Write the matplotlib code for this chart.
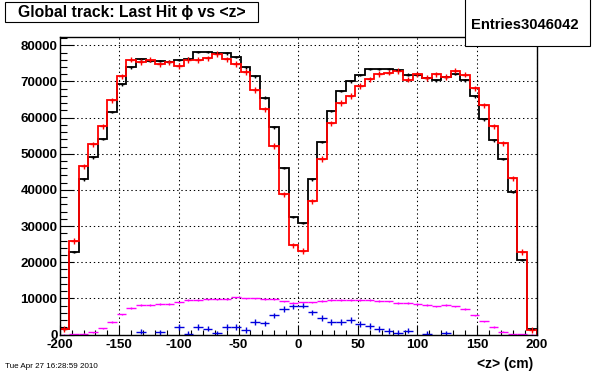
#Last hit phi vs <z> for global tracks, ROOT style histogram overlay

import numpy as np
import matplotlib
matplotlib.use("Agg")
import matplotlib.pyplot as plt
from matplotlib.patches import Rectangle
from matplotlib.ticker import MultipleLocator

#bin layout: 50 bins from -200 to 200 cm
z_lo, z_hi, n_bins = -200, 200, 50

#series (entries per bin)
black_counts = [1500, 22800, 42900, 49000, 54100, 61500, 69200, 73900, 76100, 75700,
                75600, 75500, 75900, 76300, 78100, 78100, 77800, 77800, 76800, 73900,
                71400, 65500, 57300, 46000, 32500, 30900, 42900, 53200, 61800, 67300,
                70000, 71800, 73400, 73400, 73400, 73100, 71900, 71900, 70900, 70300,
                71200, 72000, 70300, 65900, 59500, 53700, 48500, 39400, 20600, 1500]
red_counts = [1500, 25900, 46500, 52600, 57600, 64800, 71400, 76000, 75400, 76000,
              74700, 75300, 74300, 75900, 75900, 76400, 77600, 76100, 74800, 72600,
              67600, 62300, 52100, 38800, 24700, 23100, 36800, 48500, 58400, 64000,
              66000, 68700, 70600, 72100, 72400, 72900, 70500, 72000, 71000, 72000,
              71200, 73000, 71900, 68100, 63400, 57600, 52900, 43200, 22800, 1200]
magenta_counts = [0, 50, 100, 600, 1700, 3500, 5600, 7300, 8100, 8100,
                  8400, 8400, 8900, 9500, 9500, 9700, 9700, 9800, 10300, 10000,
                  10000, 9800, 9800, 9200, 8800, 8900, 8900, 9300, 9600, 9600,
                  9600, 9600, 9600, 9300, 9200, 8700, 8700, 8400, 8100, 7800,
                  8100, 7800, 7100, 5300, 3600, 2100, 800, 50, 50, 0]
blue_counts = [0, 0, 0, 0, 0, 0, 0, 0, 800, 0,
               600, 0, 2100, 200, 2100, 1600, 300, 2100, 2100, 1300,
               3500, 3100, 5300, 7100, 7800, 8000, 6100, 4600, 3400, 3400,
               4000, 2900, 2400, 1500, 1000, 400, 1100, 0, 100, 0,
               300, 0, 0, 0, 0, 0, 0, 0, 0, 0]

y_ticks = [0, 10000, 20000, 30000, 40000, 50000, 60000, 70000, 80000]
x_ticks = [-200, -150, -100, -50, 0, 50, 100, 150, 200]

title_text = "Global track: Last Hit \u03d5 vs <z>"
stats_text = "Entries3046042"
date_text = "Tue Apr 27 16:28:59 2010"
xlabel_text = "<z> (cm)"

plt.rcParams['font.family'] = ['Liberation Sans', 'DejaVu Sans']

W, H = 596, 372
fig = plt.figure(figsize=(W / 100, H / 100), dpi=100)
ax = fig.add_axes([59.7 / W, 1 - 334.5 / H, (536.5 - 59.7) / W, (334.5 - 37) / H])

edges = np.linspace(z_lo, z_hi, n_bins + 1)
centers = 0.5 * (edges[:-1] + edges[1:])
half = 0.5 * (edges[1] - edges[0])

black = np.array(black_counts, dtype=float)
red = np.array(red_counts, dtype=float)
magenta = np.array(magenta_counts, dtype=float)
blue = np.array(blue_counts, dtype=float)

#grid first so it sits under the histograms
ax.grid(True, which='major', color='black', linestyle=(0, (1.3, 2.7)), linewidth=0.75)
ax.set_axisbelow(True)

#black and red outline histograms with small error crosses
ax.stairs(black, edges, color='black', linewidth=1.3, baseline=0)
ax.errorbar(centers, black, yerr=350, xerr=1.6, fmt='none', ecolor='black', elinewidth=1.0)
ax.stairs(red, edges, color='#ff0000', linewidth=1.3, baseline=0)
ax.errorbar(centers, red, yerr=750, xerr=2.2, fmt='none', ecolor='#ff0000', elinewidth=1.0)

#magenta and blue as points with bin-wide bars
ax.errorbar(centers, magenta, yerr=200, xerr=half, fmt='none', ecolor='#ff00ff', elinewidth=1.0)
m = blue > 0
ax.errorbar(centers[m], blue[m], yerr=750, xerr=half, fmt='none', ecolor='#0000dd', elinewidth=1.0)

ax.set_xlim(z_lo, z_hi)
ax.set_ylim(0, 82300)
ax.set_xticks(x_ticks)
ax.set_xticklabels([str(v) for v in x_ticks])
ax.set_yticks(y_ticks)
ax.set_yticklabels([str(v) for v in y_ticks])
ax.xaxis.set_minor_locator(MultipleLocator(10))
ax.yaxis.set_minor_locator(MultipleLocator(2000))

ax.tick_params(axis='x', which='major', direction='in', length=7.2, width=0.8, pad=3,
               labelsize=9.6, top=False)
ax.tick_params(axis='x', which='minor', direction='in', length=3.6, width=0.8, top=False)
ax.tick_params(axis='y', which='major', direction='in', length=10, width=0.8, pad=1.5,
               labelsize=9.6, right=False)
ax.tick_params(axis='y', which='minor', direction='in', length=5, width=0.8, right=False)
for lab in ax.get_xticklabels() + ax.get_yticklabels():
    lab.set_fontweight('bold')
for sp in ax.spines.values():
    sp.set_linewidth(1.0)
    sp.set_color('black')

def fx(px):
    return px / W

def fy(py):
    return 1 - py / H

#title box
fig.add_artist(Rectangle((fx(5), fy(22.3)), fx(258) - fx(5), fy(1.7) - fy(22.3),
                         transform=fig.transFigure, facecolor='white', edgecolor='black',
                         linewidth=0.8))
fig.text(fx(131.5), fy(12), title_text, ha='center', va='center', fontsize=11.3,
         fontweight='bold')

#stats box
fig.add_artist(Rectangle((fx(465), fy(46)), fx(590) - fx(465), fy(-2) - fy(46),
                         transform=fig.transFigure, facecolor='white', edgecolor='black',
                         linewidth=0.8, zorder=5))
fig.text(fx(525), fy(25), stats_text, ha='center', va='center', fontsize=10.6,
         fontweight='bold', zorder=6)

fig.text(fx(533.5), fy(364), xlabel_text, ha='right', va='center', fontsize=10,
         fontweight='bold')
fig.text(fx(5), fy(366.5), date_text, ha='left', va='center', fontsize=5.8)

fig.savefig("out.png", dpi=100)
